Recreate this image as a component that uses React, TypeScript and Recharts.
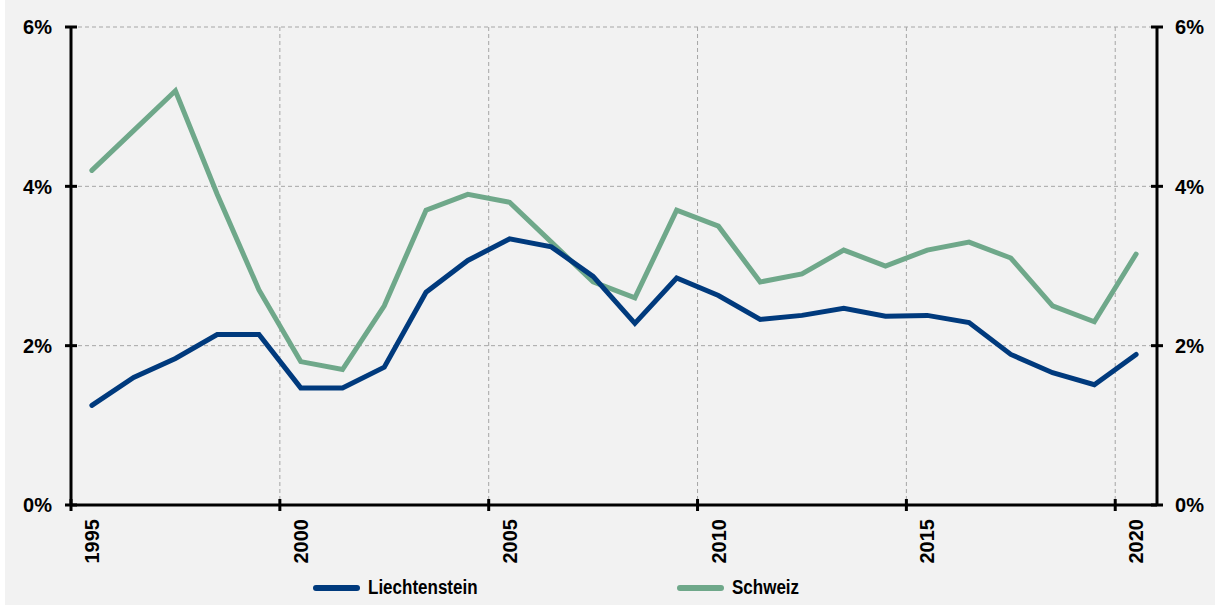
import { CartesianGrid, Line, LineChart, XAxis, YAxis } from "recharts";

const years = [
  1995, 1996, 1997, 1998, 1999, 2000, 2001, 2002, 2003, 2004, 2005, 2006, 2007,
  2008, 2009, 2010, 2011, 2012, 2013, 2014, 2015, 2016, 2017, 2018, 2019, 2020,
];
const liechtenstein = [
  1.25, 1.6, 1.84, 2.14, 2.14, 1.47, 1.47, 1.73, 2.67, 3.07, 3.34, 3.24, 2.87,
  2.28, 2.85, 2.63, 2.33, 2.38, 2.47, 2.37, 2.38, 2.29, 1.89, 1.66, 1.51, 1.89,
];
const schweiz = [
  4.2, 4.7, 5.2, 3.9, 2.7, 1.8, 1.7, 2.5, 3.7, 3.9, 3.8, 3.3, 2.8, 2.6, 3.7, 3.5,
  2.8, 2.9, 3.2, 3.0, 3.2, 3.3, 3.1, 2.5, 2.3, 3.15,
];
const gridYears = [1995, 2000, 2005, 2010, 2015, 2020];
const labelYears = [1995, 2000, 2005, 2010, 2015, 2020];
const yTicks = [0, 2, 4, 6];

const NAVY = "#003a7d";
const GREEN = "#6fa88a";
const FONT = "'Liberation Sans', Arial, sans-serif";

// each year sits in the middle of its slot, like an Excel category axis
const data = years.map((y, i) => ({
  x: y + 0.5,
  li: liechtenstein[i],
  ch: schweiz[i],
}));

const TICK = 6;

function GridTick(props: any) {
  const { x, y } = props;
  const axisY = y - TICK;
  return (
    <line x1={x} x2={x} y1={axisY - TICK} y2={axisY + TICK} stroke="#000" strokeWidth={3} />
  );
}

function YearLabel(props: any) {
  const { x, y, payload } = props;
  return (
    <text
      transform={`translate(${x},${y}) rotate(-90)`}
      textAnchor="end"
      dy="0.36em"
      fontFamily={FONT}
      fontWeight="bold"
      fontSize={20}
      fill="#000"
    >
      {Math.floor(payload.value)}
    </text>
  );
}

function makeYTick(side: "left" | "right", margin: number) {
  return function YTick(props: any) {
    const { x, y, payload } = props;
    const axisX = side === "left" ? x + TICK + margin : x - TICK - margin;
    return (
      <g>
        <line x1={axisX - TICK} x2={axisX + TICK} y1={y} y2={y} stroke="#000" strokeWidth={3} />
        <text
          x={x}
          y={y}
          dy="0.36em"
          textAnchor={side === "left" ? "end" : "start"}
          fontFamily={FONT}
          fontWeight="bold"
          fontSize={20}
          fill="#000"
        >
          {payload.value}%
        </text>
      </g>
    );
  };
}

const LeftTick = makeYTick("left", 13);
const RightTick = makeYTick("right", 12);

function LegendItem({ color, label, left }: { color: string; label: string; left: number }) {
  return (
    <div
      style={{
        position: "absolute",
        left,
        top: 576,
        display: "flex",
        alignItems: "center",
        fontFamily: FONT,
        fontWeight: "bold",
        fontSize: 20,
        color: "#000",
        whiteSpace: "nowrap",
      }}
    >
      <span
        style={{
          display: "inline-block",
          width: 47,
          height: 6,
          borderRadius: 3,
          background: color,
          marginRight: 8,
        }}
      />
      <span style={{ display: "inline-block", transform: "scaleX(0.85)", transformOrigin: "left center" }}>
        {label}
      </span>
    </div>
  );
}

export default function App() {
  return (
    <div
      style={{
        position: "absolute",
        left: 0,
        top: 0,
        width: 1215,
        height: 610,
        background: "#fff",
        overflow: "hidden",
      }}
    >
      <div
        style={{
          position: "absolute",
          left: 5,
          top: 0,
          width: 1210,
          height: 605,
          background: "#f2f2f2",
        }}
      />
      <div style={{ position: "absolute", left: 0, top: 0 }}>
        <LineChart
          width={1215}
          height={610}
          data={data}
          margin={{ top: 27, right: 0, bottom: 0, left: 0 }}
        >
          <CartesianGrid
            xAxisId="grid"
            yAxisId="left"
            stroke="#a6a6a6"
            strokeDasharray="4 3"
          />
          <XAxis
            xAxisId="grid"
            dataKey="x"
            type="number"
            domain={[1995, 2021]}
            ticks={gridYears}
            interval={0}
            height={1}
            tickSize={TICK}
            tickMargin={0}
            tickLine={false}
            tick={<GridTick />}
            axisLine={{ stroke: "#000", strokeWidth: 3 }}
          />
          <XAxis
            xAxisId="labels"
            dataKey="x"
            type="number"
            domain={[1995, 2021]}
            ticks={labelYears.map((y) => y + 0.5)}
            interval={0}
            height={104}
            tickSize={0}
            tickMargin={13}
            tickLine={false}
            axisLine={false}
            tick={<YearLabel />}
          />
          <YAxis
            yAxisId="left"
            orientation="left"
            width={71}
            domain={[0, 6]}
            ticks={yTicks}
            interval={0}
            tickSize={TICK}
            tickMargin={13}
            tickLine={false}
            tick={<LeftTick />}
            axisLine={{ stroke: "#000", strokeWidth: 3 }}
          />
          <YAxis
            yAxisId="right"
            orientation="right"
            width={58}
            domain={[0, 6]}
            ticks={yTicks}
            interval={0}
            tickSize={TICK}
            tickMargin={12}
            tickLine={false}
            tick={<RightTick />}
            axisLine={{ stroke: "#000", strokeWidth: 3 }}
          />
          <Line
            xAxisId="grid"
            yAxisId="right"
            dataKey="ch"
            stroke={GREEN}
            strokeWidth={5}
            strokeLinecap="round"
            dot={false}
            isAnimationActive={false}
          />
          <Line
            xAxisId="grid"
            yAxisId="left"
            dataKey="li"
            stroke={NAVY}
            strokeWidth={5}
            strokeLinecap="round"
            dot={false}
            isAnimationActive={false}
          />
        </LineChart>
      </div>
      <LegendItem color={NAVY} label="Liechtenstein" left={313} />
      <LegendItem color={GREEN} label="Schweiz" left={677} />
    </div>
  );
}
